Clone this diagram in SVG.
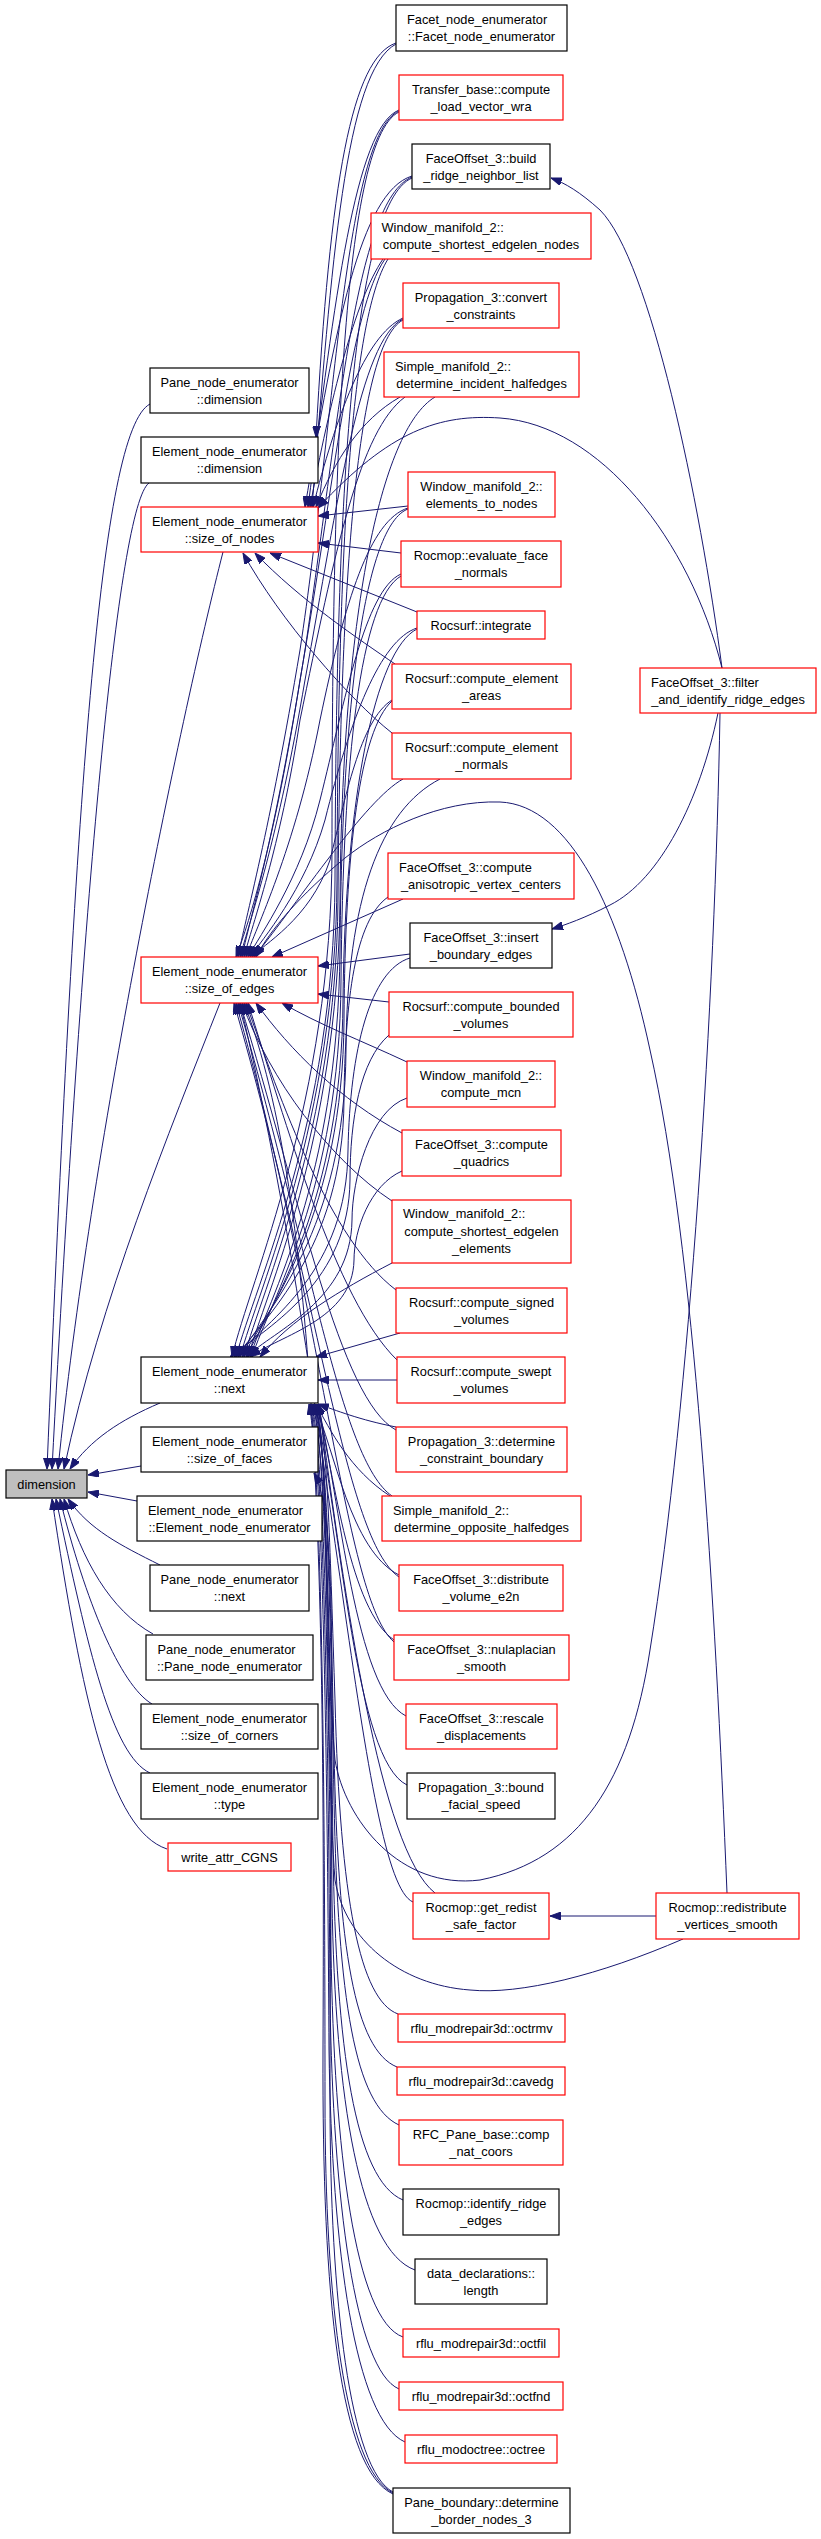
<svg xmlns="http://www.w3.org/2000/svg" width="821" height="2539" viewBox="0 0 821 2539">
<style>
rect{fill:#fff;stroke-width:1.2}
.b rect{stroke:#000}
.r rect{stroke:#f00}
.g rect{fill:#bfbfbf;stroke:#000}
text{font-family:"Liberation Sans",Arial,sans-serif;font-size:12.8px;fill:#000;text-anchor:middle}
text.l{text-anchor:start}
#edges path{fill:none;stroke:#191970;stroke-width:1;marker-end:url(#a)}
</style>
<defs>
<marker id="a" viewBox="0 0 11 8" refX="11" refY="4" markerWidth="11" markerHeight="8" markerUnits="userSpaceOnUse" orient="auto"><path d="M0,0 L11,4 L0,8 z" fill="#191970" stroke="#191970"/></marker>
</defs>
<rect x="0" y="0" width="821" height="2539" style="fill:#fff;stroke:none"/>
<g id="edges">
<path d="M150,404 C100,430 75,800 47,1469"/>
<path d="M149,483 C118,505 82,900 52,1469"/>
<path d="M223,552 C180,720 90,1150 58,1469"/>
<path d="M220,1003 C170,1130 100,1300 64,1469"/>
<path d="M160,1403 C120,1420 90,1440 70,1469"/>
<path d="M141,1466 L88,1475"/>
<path d="M137,1501 L88,1492"/>
<path d="M160,1565 C120,1545 90,1530 68,1499"/>
<path d="M153,1634 C110,1610 82,1560 64,1499"/>
<path d="M152,1704 C120,1685 85,1600 60,1499"/>
<path d="M150,1773 C112,1755 88,1650 56,1499"/>
<path d="M167,1849 C110,1830 82,1700 52,1499"/>
<path d="M396,43 C352,58 330,180 316,437"/>
<path d="M396,44 C345,72 332,260 312,507"/>
<path d="M399,110 C355,128 335,300 308,507"/>
<path d="M399,111 C345,135 335,420 300,650 C270,830 245,920 238,957"/>
<path d="M399,112 C340,140 332,500 332,850 C332,1100 250,1280 232,1357"/>
<path d="M412,176 C360,192 335,330 305,507"/>
<path d="M412,177 C355,200 338,430 305,650 C275,840 248,925 242,957"/>
<path d="M412,178 C350,205 336,520 335,880 C334,1120 255,1285 236,1357"/>
<path d="M383,259 C355,300 330,400 310,507"/>
<path d="M385,259 C350,310 335,480 300,680 C275,840 250,920 236,957"/>
<path d="M388,259 C350,320 338,560 337,880 C336,1120 258,1290 240,1357"/>
<path d="M403,318 C365,335 335,420 313,507"/>
<path d="M403,319 C360,340 338,500 305,680 C278,840 250,920 240,957"/>
<path d="M403,320 C355,345 340,600 338,900 C336,1130 262,1290 244,1357"/>
<path d="M400,397 C360,420 335,460 316,507"/>
<path d="M405,397 C360,430 335,550 300,720 C280,850 252,925 244,957"/>
<path d="M435,397 C380,430 342,620 340,900 C338,1140 265,1295 248,1357"/>
<path d="M722,668 C690,540 600,425 500,418 C440,414 390,430 318,508"/>
<path d="M408,506 L318,516"/>
<path d="M408,508 C370,520 345,600 320,720 C295,850 255,930 246,957"/>
<path d="M408,509 C365,525 342,700 340,950 C338,1180 268,1300 250,1357"/>
<path d="M401,553 L318,543"/>
<path d="M401,574 C365,590 345,700 320,800 C300,880 260,935 248,957"/>
<path d="M401,576 C360,600 343,760 341,980 C340,1190 270,1300 252,1357"/>
<path d="M417,612 L270,553"/>
<path d="M417,628 C380,640 350,720 325,820 C305,890 262,940 250,957"/>
<path d="M417,629 C375,650 345,800 343,1000 C342,1200 272,1305 246,1357"/>
<path d="M395,664 C360,640 300,600 255,553"/>
<path d="M392,700 C360,720 345,800 330,860 C310,920 262,945 252,957"/>
<path d="M392,701 C360,730 345,850 344,1020 C343,1210 270,1310 242,1357"/>
<path d="M392,733 C350,700 280,620 243,553"/>
<path d="M403,779 C365,800 300,900 254,957"/>
<path d="M440,779 C380,810 347,900 346,1050 C345,1230 268,1310 238,1357"/>
<path d="M403,899 L272,957"/>
<path d="M388,897 C355,920 345,1000 344,1100 C343,1250 262,1320 236,1357"/>
<path d="M410,954 L318,966"/>
<path d="M410,958 C370,970 350,1050 348,1150 C347,1270 270,1320 234,1357"/>
<path d="M389,1002 L318,994"/>
<path d="M389,1035 C360,1060 350,1120 350,1180 C349,1280 272,1325 230,1357"/>
<path d="M407,1062 C360,1040 320,1025 282,1003"/>
<path d="M407,1098 C370,1110 352,1180 352,1220 C351,1300 275,1330 246,1357"/>
<path d="M402,1133 C340,1100 290,1050 256,1003"/>
<path d="M402,1171 C370,1185 354,1230 354,1260 C353,1320 280,1335 250,1357"/>
<path d="M392,1201 C330,1160 270,1080 242,1003"/>
<path d="M392,1263 C340,1290 290,1320 260,1357"/>
<path d="M396,1290 C330,1240 280,1100 246,1003"/>
<path d="M400,1333 L316,1357"/>
<path d="M397,1360 C335,1300 285,1120 248,1003"/>
<path d="M397,1380 L318,1380"/>
<path d="M396,1427 C360,1420 335,1410 318,1404"/>
<path d="M396,1430 C340,1400 300,1200 240,1003"/>
<path d="M390,1496 C350,1470 330,1430 316,1404"/>
<path d="M392,1496 C340,1460 310,1250 238,1003"/>
<path d="M399,1575 C350,1550 335,1450 314,1404"/>
<path d="M399,1577 C345,1540 320,1300 234,1003"/>
<path d="M394,1640 C350,1610 335,1480 317,1404"/>
<path d="M394,1642 C345,1600 325,1320 236,1003"/>
<path d="M406,1716 C355,1690 340,1500 318,1404"/>
<path d="M407,1785 C355,1760 342,1530 315,1404"/>
<path d="M435,1893 C380,1850 345,1600 319,1404"/>
<path d="M413,1902 C360,1880 335,1400 240,1003"/>
<path d="M656,1916 L550,1916"/>
<path d="M727,1893 C715,1600 695,1250 650,1050 C620,910 570,805 500,802 C440,800 380,830 345,858 C300,895 270,930 256,957"/>
<path d="M683,1939 C600,1975 520,1995 470,1990 C400,1985 345,1940 335,1880 C325,1750 330,1500 318,1404"/>
<path d="M720,713 C715,1000 690,1400 650,1650 C630,1780 580,1860 480,1880 C400,1890 345,1820 335,1760 C325,1650 330,1480 316,1404"/>
<path d="M722,668 C700,500 650,260 600,210 C580,192 565,183 551,178"/>
<path d="M718,713 C700,800 660,880 610,905 C585,918 565,925 552,929"/>
<path d="M398,2014 C360,2000 340,1900 335,1700 C330,1550 328,1450 318,1404"/>
<path d="M397,2067 C355,2050 338,1950 334,1750 C330,1560 326,1450 315,1404"/>
<path d="M399,2125 C355,2105 338,2000 334,1800 C330,1580 326,1460 316,1404"/>
<path d="M403,2200 C355,2180 336,2050 333,1850 C330,1600 325,1460 313,1404"/>
<path d="M415,2270 C360,2250 335,2100 332,1900 C330,1620 324,1460 314,1404"/>
<path d="M403,2337 C355,2320 334,2150 331,1950 C329,1640 323,1460 312,1404"/>
<path d="M399,2389 C355,2370 333,2200 330,2000 C328,1660 322,1460 311,1404"/>
<path d="M405,2442 C355,2420 332,2250 329,2050 C327,1680 321,1460 310,1404"/>
<path d="M393,2493 C345,2470 325,2300 325,2100 C325,1700 320,1460 309,1404"/>
<path d="M393,2492 C350,2470 330,2300 330,2100 C330,1700 340,1520 314,1473"/>
<path d="M393,2494 C340,2470 322,2300 323,2050 C325,1600 320,1200 244,1003"/>
</g>
<g id="n-dimension" class="g"><rect x="6" y="1470" width="81" height="28"/><text x="46.5" y="1488.5">dimension</text></g>
<g id="n-pne-dim" class="b"><rect x="150" y="368" width="159" height="45"/><text x="229.5" y="387">Pane_node_enumerator</text><text x="229.5" y="404">::dimension</text></g>
<g id="n-ene-dim" class="b"><rect x="141" y="437" width="177" height="46"/><text x="229.5" y="456">Element_node_enumerator</text><text x="229.5" y="473">::dimension</text></g>
<g id="n-sn" class="r"><rect x="141" y="507" width="177" height="45"/><text x="229.5" y="526">Element_node_enumerator</text><text x="229.5" y="543">::size_of_nodes</text></g>
<g id="n-se" class="r"><rect x="141" y="957" width="177" height="46"/><text x="229.5" y="976">Element_node_enumerator</text><text x="229.5" y="993">::size_of_edges</text></g>
<g id="n-nx" class="b"><rect x="141" y="1357" width="177" height="46"/><text x="229.5" y="1376">Element_node_enumerator</text><text x="229.5" y="1393">::next</text></g>
<g id="n-sf" class="b"><rect x="141" y="1427" width="177" height="45"/><text x="229.5" y="1446">Element_node_enumerator</text><text x="229.5" y="1463">::size_of_faces</text></g>
<g id="n-ene-ctor" class="b"><rect x="137" y="1496" width="185" height="45"/><text class="l" x="148" y="1515">Element_node_enumerator</text><text x="229.5" y="1532">::Element_node_enumerator</text></g>
<g id="n-pne-next" class="b"><rect x="150" y="1565" width="159" height="46"/><text x="229.5" y="1584">Pane_node_enumerator</text><text x="229.5" y="1601">::next</text></g>
<g id="n-pne-ctor" class="b"><rect x="146" y="1635" width="167" height="45"/><text class="l" x="157.5" y="1654">Pane_node_enumerator</text><text x="229.5" y="1671">::Pane_node_enumerator</text></g>
<g id="n-soc" class="b"><rect x="141" y="1704" width="177" height="45"/><text x="229.5" y="1723">Element_node_enumerator</text><text x="229.5" y="1740">::size_of_corners</text></g>
<g id="n-type" class="b"><rect x="141" y="1773" width="177" height="46"/><text x="229.5" y="1792">Element_node_enumerator</text><text x="229.5" y="1809">::type</text></g>
<g id="n-wac" class="r"><rect x="168" y="1843" width="123" height="28"/><text x="229.5" y="1861.5">write_attr_CGNS</text></g>
<g id="n-facet" class="b"><rect x="396" y="5" width="171" height="46"/><text class="l" x="407" y="24">Facet_node_enumerator</text><text x="481.5" y="41">::Facet_node_enumerator</text></g>
<g id="n-transfer" class="r"><rect x="399" y="75" width="164" height="45"/><text x="481" y="94">Transfer_base::compute</text><text x="481" y="111">_load_vector_wra</text></g>
<g id="n-build" class="b"><rect x="412" y="144" width="138" height="45"/><text x="481" y="163">FaceOffset_3::build</text><text x="481" y="180">_ridge_neighbor_list</text></g>
<g id="n-cse-nodes" class="r"><rect x="371" y="213" width="220" height="46"/><text class="l" x="381.5" y="232">Window_manifold_2::</text><text x="481" y="249">compute_shortest_edgelen_nodes</text></g>
<g id="n-convert" class="r"><rect x="403" y="283" width="156" height="45"/><text x="481" y="302">Propagation_3::convert</text><text x="481" y="319">_constraints</text></g>
<g id="n-incident" class="r"><rect x="384" y="352" width="195" height="45"/><text class="l" x="395" y="371">Simple_manifold_2::</text><text x="481.5" y="388">determine_incident_halfedges</text></g>
<g id="n-e2n" class="r"><rect x="408" y="472" width="147" height="45"/><text x="481.5" y="491">Window_manifold_2::</text><text x="481.5" y="508">elements_to_nodes</text></g>
<g id="n-efn" class="r"><rect x="401" y="541" width="160" height="46"/><text x="481" y="560">Rocmop::evaluate_face</text><text x="481" y="577">_normals</text></g>
<g id="n-integ" class="r"><rect x="417" y="611" width="128" height="28"/><text x="481" y="629.5">Rocsurf::integrate</text></g>
<g id="n-areas" class="r"><rect x="392" y="664" width="179" height="45"/><text x="481.5" y="683">Rocsurf::compute_element</text><text x="481.5" y="700">_areas</text></g>
<g id="n-normals" class="r"><rect x="392" y="733" width="179" height="46"/><text x="481.5" y="752">Rocsurf::compute_element</text><text x="481.5" y="769">_normals</text></g>
<g id="n-filter" class="r"><rect x="640" y="668" width="176" height="45"/><text class="l" x="651" y="687">FaceOffset_3::filter</text><text x="728" y="704">_and_identify_ridge_edges</text></g>
<g id="n-aniso" class="r"><rect x="388" y="853" width="186" height="46"/><text class="l" x="399" y="872">FaceOffset_3::compute</text><text x="481" y="889">_anisotropic_vertex_centers</text></g>
<g id="n-insert" class="b"><rect x="410" y="923" width="142" height="45"/><text x="481" y="942">FaceOffset_3::insert</text><text x="481" y="959">_boundary_edges</text></g>
<g id="n-bounded" class="r"><rect x="389" y="992" width="184" height="45"/><text x="481" y="1011">Rocsurf::compute_bounded</text><text x="481" y="1028">_volumes</text></g>
<g id="n-mcn" class="r"><rect x="407" y="1061" width="148" height="46"/><text x="481" y="1080">Window_manifold_2::</text><text x="481" y="1097">compute_mcn</text></g>
<g id="n-quadrics" class="r"><rect x="402" y="1130" width="159" height="46"/><text x="481.5" y="1149">FaceOffset_3::compute</text><text x="481.5" y="1166">_quadrics</text></g>
<g id="n-cse-elem" class="r"><rect x="392" y="1200" width="179" height="63"/><text class="l" x="403" y="1218">Window_manifold_2::</text><text x="481.5" y="1235.5">compute_shortest_edgelen</text><text x="481.5" y="1253">_elements</text></g>
<g id="n-signed" class="r"><rect x="396" y="1288" width="171" height="45"/><text x="481.5" y="1307">Rocsurf::compute_signed</text><text x="481.5" y="1324">_volumes</text></g>
<g id="n-swept" class="r"><rect x="397" y="1357" width="168" height="46"/><text x="481" y="1376">Rocsurf::compute_swept</text><text x="481" y="1393">_volumes</text></g>
<g id="n-dcb" class="r"><rect x="396" y="1427" width="171" height="45"/><text x="481.5" y="1446">Propagation_3::determine</text><text x="481.5" y="1463">_constraint_boundary</text></g>
<g id="n-opp" class="r"><rect x="382" y="1496" width="199" height="45"/><text class="l" x="393" y="1515">Simple_manifold_2::</text><text x="481.5" y="1532">determine_opposite_halfedges</text></g>
<g id="n-distrib" class="r"><rect x="399" y="1565" width="164" height="46"/><text x="481" y="1584">FaceOffset_3::distribute</text><text x="481" y="1601">_volume_e2n</text></g>
<g id="n-nulap" class="r"><rect x="394" y="1635" width="175" height="45"/><text x="481.5" y="1654">FaceOffset_3::nulaplacian</text><text x="481.5" y="1671">_smooth</text></g>
<g id="n-rescale" class="r"><rect x="406" y="1704" width="151" height="45"/><text x="481.5" y="1723">FaceOffset_3::rescale</text><text x="481.5" y="1740">_displacements</text></g>
<g id="n-bfs" class="b"><rect x="407" y="1773" width="148" height="46"/><text x="481" y="1792">Propagation_3::bound</text><text x="481" y="1809">_facial_speed</text></g>
<g id="n-getredist" class="r"><rect x="413" y="1893" width="136" height="46"/><text x="481" y="1912">Rocmop::get_redist</text><text x="481" y="1929">_safe_factor</text></g>
<g id="n-redist" class="r"><rect x="656" y="1893" width="143" height="46"/><text x="727.5" y="1912">Rocmop::redistribute</text><text x="727.5" y="1929">_vertices_smooth</text></g>
<g id="n-octrmv" class="r"><rect x="398" y="2014" width="167" height="28"/><text x="481.5" y="2032.5">rflu_modrepair3d::octrmv</text></g>
<g id="n-cavedg" class="r"><rect x="397" y="2067" width="168" height="28"/><text x="481" y="2085.5">rflu_modrepair3d::cavedg</text></g>
<g id="n-rfc" class="r"><rect x="399" y="2120" width="164" height="45"/><text x="481" y="2139">RFC_Pane_base::comp</text><text x="481" y="2156">_nat_coors</text></g>
<g id="n-ridge" class="b"><rect x="403" y="2189" width="156" height="46"/><text x="481" y="2208">Rocmop::identify_ridge</text><text x="481" y="2225">_edges</text></g>
<g id="n-length" class="b"><rect x="415" y="2259" width="132" height="45"/><text x="481" y="2278">data_declarations::</text><text x="481" y="2295">length</text></g>
<g id="n-octfil" class="r"><rect x="403" y="2329" width="156" height="28"/><text x="481" y="2347.5">rflu_modrepair3d::octfil</text></g>
<g id="n-octfnd" class="r"><rect x="399" y="2382" width="164" height="28"/><text x="481" y="2400.5">rflu_modrepair3d::octfnd</text></g>
<g id="n-octree" class="r"><rect x="405" y="2435" width="152" height="28"/><text x="481" y="2453.5">rflu_modoctree::octree</text></g>
<g id="n-pb" class="b"><rect x="393" y="2488" width="177" height="45"/><text x="481.5" y="2507">Pane_boundary::determine</text><text x="481.5" y="2524">_border_nodes_3</text></g>
</svg>
